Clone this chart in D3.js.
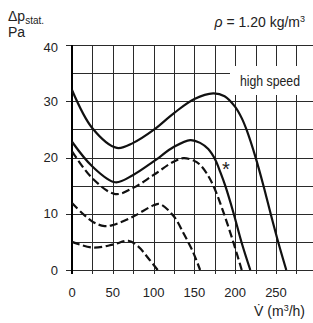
<!DOCTYPE html>
<html>
<head>
<meta charset="utf-8">
<script src="https://cdn.jsdelivr.net/npm/d3@7"></script>
<style>
  html, body { margin: 0; padding: 0; background: #fff; }
  svg { display: block; font-family: "Liberation Sans", Arial, sans-serif; }
</style>
</head>
<body>
<svg id="chart" width="313" height="323"></svg>
<script>
// fan curves: flow (m3/h) vs static pressure (Pa)
const highFlow  = [0, 25, 55, 75, 100, 125, 150, 173, 187, 200, 208, 214, 224.6, 234.8, 243.8, 253, 262.6];
const highPress = [32.0, 25.2, 21.7, 22.6, 24.9, 27.9, 30.4, 31.4, 30.9, 29.0, 27.0, 24.9, 20.2, 14.9, 9.8, 4.8, 0];

const midFlow   = [0, 25, 53, 75, 100, 125, 145, 157, 167, 175.6, 182, 188, 198, 208, 218.5];
const midPress  = [22.8, 18.4, 15.6, 16.9, 19.3, 21.9, 23.1, 22.6, 21.5, 19.6, 17.3, 14.9, 10.1, 4.8, 0];

const dash1Flow  = [0, 25, 53, 75, 100, 125, 137, 150, 157, 165, 173.5, 186, 198, 208];
const dash1Press = [21.1, 16.3, 13.5, 14.6, 16.9, 19.3, 19.9, 19.4, 18.7, 17.2, 14.9, 10.1, 4.8, 0];

const dash2Flow  = [0, 25, 40, 50, 75, 100, 108, 125, 137.5, 148, 157];
const dash2Press = [11.9, 8.6, 7.8, 8.0, 9.5, 11.5, 11.7, 9.5, 6.3, 3.3, 0];

const dash3Flow  = [0, 25, 50, 69, 81, 93.5, 105];
const dash3Press = [5.0, 4.0, 4.5, 5.2, 4.2, 2.1, 0];

const xTicks = [0, 50, 100, 150, 200, 250];
const yTicks = [0, 10, 20, 30, 40];

const curves = [
  { flow: highFlow,  press: highPress,  dashed: false },
  { flow: midFlow,   press: midPress,   dashed: false },
  { flow: dash1Flow, press: dash1Press, dashed: true },
  { flow: dash2Flow, press: dash2Press, dashed: true },
  { flow: dash3Flow, press: dash3Press, dashed: true }
];

const svg = d3.select("#chart");
const width = +svg.attr("width");

const x = d3.scaleLinear().domain([0, 300]).range([72, 316.8]);
const y = d3.scaleLinear().domain([0, 40]).range([270, 45]);

const gridColor = "#2a2a2a";
const textColor = "#222";

// --- grid ---
const grid = svg.append("g");

grid.selectAll(".hline")
  .data(d3.range(0, 41, 5))
  .join("line")
  .attr("x1", x(0)).attr("x2", width)
  .attr("y1", d => Math.round(y(d)) + 0.5)
  .attr("y2", d => Math.round(y(d)) + 0.5)
  .attr("stroke", gridColor)
  .attr("stroke-width", 1);

grid.selectAll(".vline")
  .data(d3.range(25, 296, 25))
  .join("line")
  .attr("x1", d => Math.round(x(d)) + 0.5)
  .attr("x2", d => Math.round(x(d)) + 0.5)
  .attr("y1", y(40))
  .attr("y2", y(0) + 4)
  .attr("stroke", gridColor)
  .attr("stroke-width", 1);

// left ticks every 10
grid.selectAll(".ytick")
  .data(yTicks)
  .join("line")
  .attr("x1", x(0) - 6).attr("x2", x(0))
  .attr("y1", d => Math.round(y(d)) + 0.5)
  .attr("y2", d => Math.round(y(d)) + 0.5)
  .attr("stroke", gridColor);

// tick below origin
grid.append("line")
  .attr("x1", x(0)).attr("x2", x(0))
  .attr("y1", y(0)).attr("y2", y(0) + 4)
  .attr("stroke", "#000").attr("stroke-width", 2);

// y axis
svg.append("line")
  .attr("x1", x(0)).attr("x2", x(0))
  .attr("y1", y(40)).attr("y2", y(0) + 0.5)
  .attr("stroke", "#000")
  .attr("stroke-width", 2);

// --- "high speed" label box ---
svg.append("rect")
  .attr("x", 230).attr("y", 66)
  .attr("width", 83).attr("height", 29)
  .attr("fill", "#fff");

svg.append("text")
  .attr("x", 240).attr("y", 86)
  .attr("font-size", 15)
  .attr("textLength", 60)
  .attr("lengthAdjust", "spacingAndGlyphs")
  .attr("fill", textColor)
  .text("high speed");

// --- curves ---
const line = d3.line()
  .x(d => x(d[0]))
  .y(d => y(d[1]))
  .curve(d3.curveCatmullRom.alpha(0.5));

svg.append("g")
  .selectAll("path")
  .data(curves)
  .join("path")
  .attr("d", c => line(c.flow.map((f, i) => [f, c.press[i]])))
  .attr("fill", "none")
  .attr("stroke", "#111")
  .attr("stroke-width", 2.2)
  .attr("stroke-dasharray", c => c.dashed ? "8,3.5" : null);

// asterisk
svg.append("text")
  .attr("x", 226).attr("y", 176)
  .attr("text-anchor", "middle")
  .attr("font-size", 20)
  .attr("fill", textColor)
  .text("*");

// --- tick labels ---
svg.append("g")
  .selectAll("text")
  .data(yTicks)
  .join("text")
  .attr("x", 58)
  .attr("y", d => d === 40 ? y(d) + 7 : y(d) + 4.5)
  .attr("text-anchor", "end")
  .attr("font-size", 13)
  .attr("fill", textColor)
  .text(d => d);

svg.append("g")
  .selectAll("text")
  .data(xTicks)
  .join("text")
  .attr("x", d => x(d))
  .attr("y", 297)
  .attr("text-anchor", "middle")
  .attr("font-size", 13)
  .attr("fill", textColor)
  .text(d => d);

// --- axis titles ---
const yTitle = svg.append("text")
  .attr("x", 8).attr("y", 21)
  .attr("font-size", 14)
  .attr("fill", textColor);
yTitle.append("tspan").text("Δp");
yTitle.append("tspan").attr("font-size", 10).attr("dy", 3).text("stat.");

svg.append("text")
  .attr("x", 8).attr("y", 37)
  .attr("font-size", 14)
  .attr("fill", textColor)
  .text("Pa");

const rho = svg.append("text")
  .attr("x", 305).attr("y", 27)
  .attr("text-anchor", "end")
  .attr("font-size", 14)
  .attr("fill", textColor);
rho.append("tspan").attr("font-style", "italic").text("ρ");
rho.append("tspan").text(" = 1.20 kg/m");
rho.append("tspan").attr("font-size", 9).attr("dy", -5).text("3");

const xTitle = svg.append("text")
  .attr("x", 305).attr("y", 316)
  .attr("text-anchor", "end")
  .attr("font-size", 14)
  .attr("fill", textColor);
xTitle.append("tspan").text("V\u0307 (m");
xTitle.append("tspan").attr("font-size", 9).attr("dy", -5).text("3");
xTitle.append("tspan").attr("dy", 5).text("/h)");
</script>
</body>
</html>
